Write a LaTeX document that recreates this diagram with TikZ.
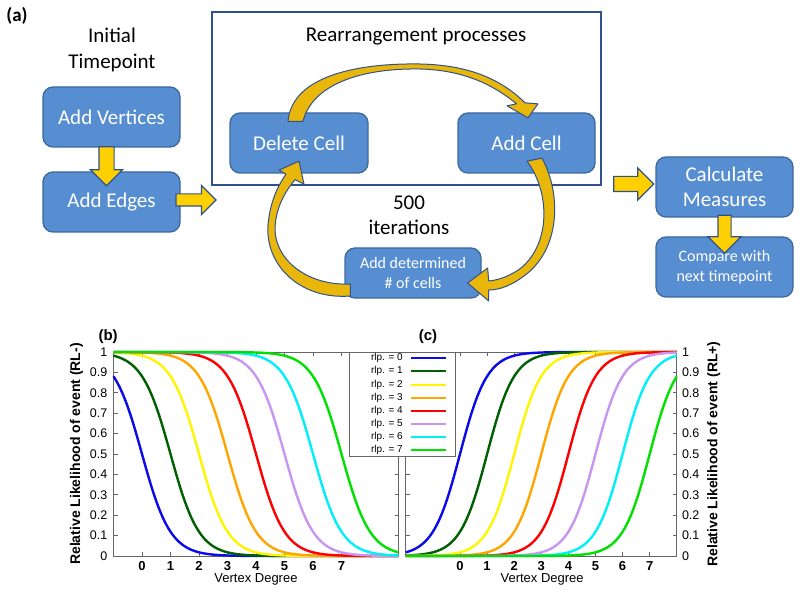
\documentclass[tikz,border=0pt]{standalone}
\usepackage{fontspec}
\setmainfont{Carlito}
\newfontfamily\plotfont{Liberation Sans}
\usetikzlibrary{calc,shapes.arrows}

\definecolor{boxblue}{RGB}{87,142,209}
\definecolor{boxline}{RGB}{60,104,158}
\definecolor{arrline}{RGB}{47,82,143}
\definecolor{arryel}{RGB}{255,208,0}
\definecolor{arrgold}{RGB}{233,183,10}
\definecolor{rblue}{RGB}{10,10,235}
\definecolor{rdgreen}{RGB}{0,95,0}
\definecolor{ryellow}{RGB}{255,245,0}
\definecolor{rorange}{RGB}{255,165,0}
\definecolor{rlav}{RGB}{200,150,240}
\definecolor{rcyan}{RGB}{0,240,250}
\definecolor{rgreen}{RGB}{0,225,0}

\begin{document}
\begin{tikzpicture}[x=1pt,y=-1pt,
  box/.style={draw=boxline,line width=1.3pt,rounded corners=10pt,fill=boxblue,text=white,
    minimum width=137pt,minimum height=60pt,inner sep=2pt,align=center,
    font=\fontsize{21}{25.5}\selectfont},
  smallbox/.style={box,font=\fontsize{16}{20}\selectfont},
  title/.style={align=center,font=\fontsize{21}{25.5}\selectfont},
  blockarr/.style={single arrow,draw=arrline,line width=1.2pt,fill=arryel,inner xsep=0pt,
    inner ysep=7pt,single arrow head extend=8.5pt},
  curvarr/.style={draw=arrline,line width=1pt,fill=arrgold,line join=round},
  ax/.style={draw=black!60,line width=0.8pt},
  crv/.style={line width=2.4pt},
  tklbl/.style={font=\plotfont\fontsize{12.5}{14}\selectfont,inner sep=0pt},
  numlbl/.style={font=\plotfont\bfseries\fontsize{13}{15}\selectfont,inner sep=0pt},
  axlbl/.style={font=\plotfont\bfseries\fontsize{14}{16}\selectfont,rotate=90},
  deglbl/.style={font=\plotfont\fontsize{13}{15}\selectfont},
  panel/.style={font=\plotfont\bfseries\fontsize{15}{17}\selectfont}]
  \useasboundingbox (0,0) rectangle (800,593);
  % ---------- (a) flow chart
  \node[font=\bfseries\fontsize{19}{22}\selectfont] (la) at (17,16) {(a)};
  \node[title] (init) at (112,50) {Initial\\Timepoint};
  \node[box] (verts) at (111.5,117) {Add Vertices};
  \node[box] (edges) at (111.5,202) {Add Edges};
  \node[draw=arrline,line width=1.3pt,minimum width=389pt,minimum height=173pt] (rearr) at (406.5,98.5) {};
  \node[title] (rtitle) at (416,37) {Rearrangement processes};
  \node[box,minimum width=138pt] (del) at (299,143) {Delete Cell};
  \node[box] (add) at (526.5,143) {Add Cell};
  \node[title] (iter) at (409,215.5) {500\\iterations};
  \node[smallbox,minimum width=136pt,minimum height=50pt] (det) at (413,273) {Add determined\\\# of cells};
  \node[box] (calc) at (724.5,187) {Calculate\\Measures};
  \node[smallbox] (cmp) at (724.5,267) {Compare with\\next timepoint};
  % block arrows
  \node[blockarr,minimum height=39pt,rotate=-90] (a1) at ($(verts.south)!0.5!(edges.north)+(-5,3)$) {};
  \node[blockarr,minimum height=40pt,inner ysep=5.5pt] (a2) at ($(edges.east)!0.5!(edges.east -| rearr.west)+(-3,-2)$) {};
  \node[blockarr,minimum height=40pt] (a3) at ($(rearr.east |- calc.west)!0.5!(calc.west)+(1.5,-3)$) {};
  \node[blockarr,minimum height=38pt,rotate=-90,inner ysep=6pt,single arrow head extend=10pt] (a4) at ($(calc.south)!0.5!(cmp.north)+(0,4)$) {};
  % curved arrows of the loop
  \draw[curvarr] ($(del.north)+(-11,9)$) .. controls (292,75) and (360,63) .. (420,64)
    .. controls (470,65) and (502,80) .. ($(add.north)+(-1.5,-9.5)$)
    -- ($(add.north)+(11.5,-8.5)$) -- ($(add.north)+(1.5,5.5)$) -- ($(add.north)+(-19.5,-6.5)$)
    -- ($(add.north)+(-10,-8.5)$) .. controls (495,86) and (465,70) .. (420,69)
    .. controls (360,68) and (312,85) .. ($(del.north)+(4,9)$) -- cycle;
  \draw[curvarr] ($(add.south)+(15.5,-15.5)$) .. controls (562,195) and (560,250) .. (524,276)
    .. controls (512,285) and (500,290) .. ($(det.east)+(7,17)$)
    -- ($(det.east)+(7,28)$) -- ($(det.east)+(-14,10)$) -- ($(det.east)+(6,-5)$)
    -- ($(det.east)+(7,8)$) .. controls (501,280) and (513,274) .. (521,268)
    .. controls (551,243) and (550,192) .. ($(add.south)+(0.5,-12.5)$) -- cycle;
  \draw[curvarr] ($(det.west)+(6,23)$) .. controls (300,300) and (265,265) .. (268,225)
    .. controls (270,203) and (277,187) .. ($(del.south)+(-13,0.5)$)
    -- ($(del.south)+(-20,-3.5)$) -- ($(del.south)+(0,-12.5)$) -- ($(del.south)+(5,10.5)$)
    -- ($(del.south)+(-4,6)$) .. controls (284,193) and (276,208) .. (275,228)
    .. controls (275,262) and (310,286) .. ($(det.west)+(6,11)$) -- cycle;
  % ---------- (b) RL- curves
  \begin{scope}[shift={(142,556)},x=28.5pt,y=204pt]
    \draw[ax] (-1,0) rectangle (9,1);
    \foreach \v in {0,...,7} {
      \draw[ax] (\v,0) -- ++(0pt,4pt) (\v,1) -- ++(0pt,-4pt);
      \node[numlbl,anchor=north] (bx\v) at ([yshift=-5pt]\v,0) {\v};
    }
    \foreach \t [count=\k] in {0,0.1,0.2,0.3,0.4,0.5,0.6,0.7,0.8,0.9,1} {
      \draw[ax] (-1,\t) -- ++(4pt,0pt) (9,\t) -- ++(-4pt,0pt);
      \node[tklbl,anchor=east] (by\k) at ([xshift=-6pt]-1,\t) {\t};
    }
    \foreach \col [count=\r from 0] in {rblue,rdgreen,ryellow,rorange,red,rlav,rcyan,rgreen}
      \draw[crv,\col] plot[domain=-1:9,samples=100,smooth] (\x,{1/(1+exp(max(min(2*(\x-\r),9),-9)))});
    \node[axlbl] (byl) at ([xshift=-37pt]-1,0.5) {Relative Likelihood of event (RL-)};
    \node[deglbl] (bxl) at ([yshift=-23pt]4,0) {Vertex Degree};
    \node[panel] (lb) at ([yshift=15pt]-1.19,1) {(b)};
  \end{scope}
  % ---------- (c) RL+ curves
  \begin{scope}[shift={(460,556)},x=27.1pt,y=204pt]
    \draw[ax] (-2,0) rectangle (8,1);
    \foreach \v in {0,...,7} {
      \draw[ax] (\v,0) -- ++(0pt,4pt) (\v,1) -- ++(0pt,-4pt);
      \node[numlbl,anchor=north] (cx\v) at ([yshift=-5pt]\v,0) {\v};
    }
    \foreach \t [count=\k] in {0,0.1,0.2,0.3,0.4,0.5,0.6,0.7,0.8,0.9,1} {
      \draw[ax] (-2,\t) -- ++(4pt,0pt) (8,\t) -- ++(-4pt,0pt);
      \node[tklbl,anchor=west] (cy\k) at ([xshift=5pt]8,\t) {\t};
    }
    \foreach \col [count=\r from 0] in {rblue,rdgreen,ryellow,rorange,red,rlav,rcyan,rgreen}
      \draw[crv,\col] plot[domain=-2:8,samples=100,smooth] (\x,{1/(1+exp(max(min(-2*(\x-\r),9),-9)))});
    \node[axlbl] (cyl) at ([xshift=37pt]8,0.5) {Relative Likelihood of event (RL+)};
    \node[deglbl] (cxl) at ([yshift=-23pt]3.03,0) {Vertex Degree};
    \node[panel] (lc) at ([yshift=15pt]-1.18,1) {(c)};
  \end{scope}
  % ---------- legend
  \node[draw=black!60,line width=0.8pt,fill=white,minimum width=106pt,minimum height=104pt,inner sep=0pt] (leg) at (402,404) {};
  \foreach \col [count=\r from 0] in {rblue,rdgreen,ryellow,rorange,red,rlav,rcyan,rgreen} {
    \node[font=\plotfont\fontsize{10}{12}\selectfont,anchor=east,inner sep=0pt] (lt\r) at (403,{358.3+13.1*\r}) {rlp. = \r};
    \draw[\col,line width=2pt] ([xshift=8pt]lt\r.east) -- ++(35pt,0pt);
  }
\end{tikzpicture}
\end{document}
